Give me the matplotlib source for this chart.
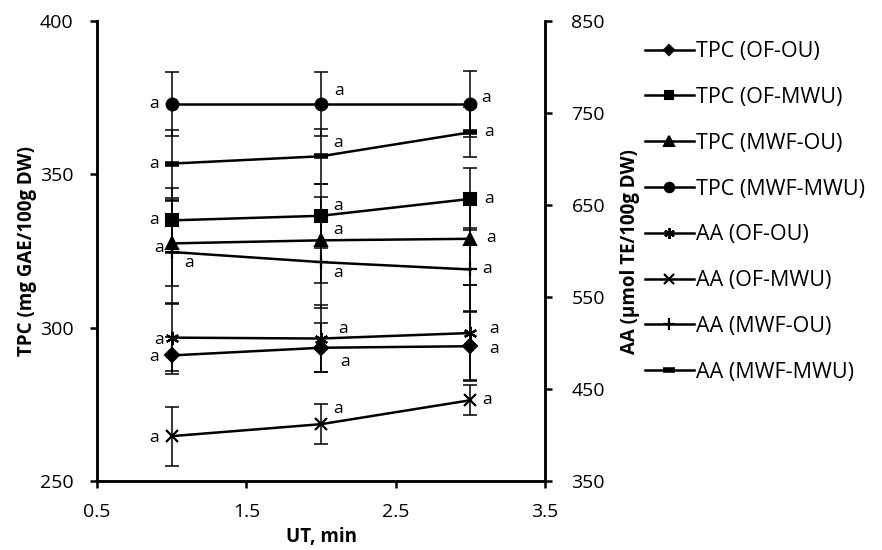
import matplotlib.pyplot as plt

plt.rcParams["font.family"] = ["Open Sans", "DejaVu Sans"]

# data
ut = [1, 2, 3]

tpc_of_ou = [291, 293.5, 294]
tpc_of_mwu = [335, 336.5, 342]
tpc_mwf_ou = [327.5, 328.5, 329]
tpc_mwf_mwu = [373, 373, 373]

tpc_of_ou_err = [6, 8, 11]
tpc_of_mwu_err = [10.5, 10.5, 10]
tpc_mwf_ou_err = [14, 14, 15]
tpc_mwf_mwu_err = [10.5, 10.5, 10.8]

aa_of_ou = [506, 505, 511]
aa_of_mwu = [399, 412, 438]
aa_mwf_ou = [599, 588, 580]
aa_mwf_mwu = [695, 703, 729]

aa_of_ou_err = [36, 36, 52]
aa_of_mwu_err = [32, 22, 16]
aa_mwf_ou_err = [55, 50, 45]
aa_mwf_mwu_err = [37, 30, 27]

tpc_labels = ["TPC (OF-OU)", "TPC (OF-MWU)", "TPC (MWF-OU)", "TPC (MWF-MWU)"]
aa_labels = ["AA (OF-OU)", "AA (OF-MWU)", "AA (MWF-OU)", "AA (MWF-MWU)"]
letter = "a"

# styling / layout
tpc_markers = [("D", 7), ("s", 8), ("^", 9), ("o", 8.5)]
aa_markers = [((6, 2, 0), 9.5), ("x", 8.5), ("+", 10), ("_", 10)]
# offsets (pixels) of the "a" letters for each point
tpc_offsets = [
    [(-18, -2), (24, -14), (24, -3)],
    [(-18, 0), (17, 10), (19, 0)],
    [(-13, -5), (17, 10), (21, 1)],
    [(-18, 0), (18, 13), (16, 6)],
]
aa_offsets = [
    [(-13, -2), (22, 10), (24, 4)],
    [(-18, -2), (17, 15), (17, 0)],
    [(17, -11), (17, -11), (17, 0)],
    [(-18, 0), (17, 13), (19, 0)],
]

fig = plt.figure(figsize=(8.82, 5.5), dpi=100)
ax = fig.add_axes([0.110, 0.125, 0.508, 0.837])
ax2 = ax.twinx()

lw = 1.8
handles = []
for vals, errs, lab, (m, ms), offs in zip(
    [tpc_of_ou, tpc_of_mwu, tpc_mwf_ou, tpc_mwf_mwu],
    [tpc_of_ou_err, tpc_of_mwu_err, tpc_mwf_ou_err, tpc_mwf_mwu_err],
    tpc_labels, tpc_markers, tpc_offsets):
    ax.errorbar(ut, vals, yerr=errs, fmt="none", ecolor="black",
                elinewidth=1.1, capsize=5, capthick=1.1)
    h, = ax.plot(ut, vals, color="black", lw=lw, marker=m, ms=ms,
                 mew=1.5, label=lab)
    handles.append(h)
    for xv, yv, (dx, dy) in zip(ut, vals, offs):
        ax.annotate(letter, (xv, yv), xytext=(dx, dy), textcoords="offset pixels",
                    ha="center", va="center", fontsize=12.5)

for vals, errs, lab, (m, ms), offs in zip(
    [aa_of_ou, aa_of_mwu, aa_mwf_ou, aa_mwf_mwu],
    [aa_of_ou_err, aa_of_mwu_err, aa_mwf_ou_err, aa_mwf_mwu_err],
    aa_labels, aa_markers, aa_offsets):
    ax2.errorbar(ut, vals, yerr=errs, fmt="none", ecolor="black",
                 elinewidth=1.1, capsize=5, capthick=1.1)
    mew = 4 if m == "_" else 1.6
    h, = ax2.plot(ut, vals, color="black", lw=lw, marker=m, ms=ms,
                  mew=mew, label=lab)
    handles.append(h)
    for xv, yv, (dx, dy) in zip(ut, vals, offs):
        ax2.annotate(letter, (xv, yv), xytext=(dx, dy), textcoords="offset pixels",
                     ha="center", va="center", fontsize=12.5)

ax.set_xlim(0.5, 3.5)
ax.set_xticks([0.5, 1.5, 2.5, 3.5])
ax.set_xticklabels(["0.5", "1.5", "2.5", "3.5"])
ax.set_ylim(250, 400)
ax.set_yticks([250, 300, 350, 400])
ax2.set_ylim(350, 850)
ax2.set_yticks([350, 450, 550, 650, 750, 850])

for a in (ax, ax2):
    a.spines["top"].set_visible(False)
    for s in ("left", "right", "bottom"):
        a.spines[s].set_linewidth(1.8)
    a.tick_params(width=1.8, length=5, labelsize=14)
ax.tick_params(axis="x", pad=11)
ax.tick_params(axis="y", pad=12)
ax2.tick_params(axis="y", pad=14)

ax.set_xlabel("UT, min", fontsize=13.5, fontweight="bold", labelpad=4)
ax.set_ylabel("TPC (mg GAE/100g DW)", fontsize=13.5, fontweight="bold", labelpad=2)
ax2.set_ylabel("AA (μmol TE/100g DW)", fontsize=13.5, fontweight="bold",
               labelpad=11)

fig.legend(handles=handles, loc="upper left", bbox_to_anchor=(0.731, 0.925),
           frameon=False, fontsize=15.5, handlelength=2.3, handletextpad=0.1,
           labelspacing=1.15, borderpad=0, borderaxespad=0, markerscale=0.8)

fig.savefig("out.png", dpi=100)
